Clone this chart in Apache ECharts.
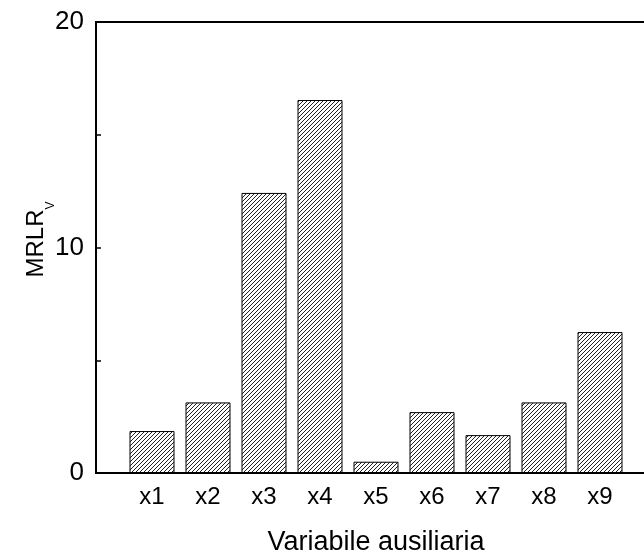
<!DOCTYPE html>
<html>
<head>
<meta charset="utf-8">
<script src="https://cdn.jsdelivr.net/npm/echarts@6/dist/echarts.min.js"></script>
<style>
  html, body { margin: 0; padding: 0; background: #fff; }
  #chart { width: 644px; height: 552px; }
</style>
</head>
<body>
<div id="chart"></div>
<script>
// Auxiliary variables on the x axis; blank slots pad both ends of the axis
const categories = ['', 'x1', 'x2', 'x3', 'x4', 'x5', 'x6', 'x7', 'x8', 'x9', ''];
const mrlrValues = [null, 1.86, 3.13, 12.42, 16.54, 0.5, 2.7, 1.68, 3.13, 6.25, null];
const yTickLabels = ['0', '10', '20'];

// Diagonal hatch fill for the bars
function hatchPattern() {
  const c = document.createElement('canvas');
  c.width = 4; c.height = 4;
  const g = c.getContext('2d');
  g.fillStyle = '#fff';
  g.fillRect(0, 0, 4, 4);
  g.strokeStyle = '#222';
  g.lineWidth = 1;
  g.beginPath();
  g.moveTo(-1, 5); g.lineTo(5, -1);
  g.moveTo(-1, 1); g.lineTo(1, -1);
  g.moveTo(3, 5); g.lineTo(5, 3);
  g.stroke();
  return c;
}

const chart = echarts.init(document.getElementById('chart'));
const font = 'Liberation Sans, Arial, sans-serif';

chart.setOption({
  animation: false,
  backgroundColor: '#fff',
  grid: {
    // the plot frame runs on past the right edge of the page
    left: 96, right: -12, top: 22, bottom: 79,
    containLabel: false,
    outerBoundsMode: 'none',
    show: true, borderColor: '#000', borderWidth: 2, backgroundColor: 'transparent'
  },
  xAxis: {
    type: 'category',
    data: categories,
    boundaryGap: false,
    name: 'Variabile ausiliaria',
    nameLocation: 'middle',
    nameGap: 56,
    nameMoveOverlap: false,
    nameTextStyle: { fontFamily: font, fontSize: 27, color: '#000' },
    axisLine: { lineStyle: { color: '#000', width: 2 } },
    axisTick: { show: false },
    axisLabel: { fontFamily: font, fontSize: 24, color: '#000', margin: 12, interval: 0 },
    splitLine: { show: false }
  },
  yAxis: {
    type: 'value',
    min: 0, max: 20, interval: 5,
    name: '{a|MRLR}{b|V}',
    nameLocation: 'middle',
    nameRotate: 90,
    nameGap: 48,
    nameMoveOverlap: false,
    nameTextStyle: {
      rich: {
        a: { fontFamily: font, fontSize: 24, lineHeight: 24, color: '#000', padding: [0, 0, 0, 16] },
        b: { fontFamily: font, fontSize: 12, lineHeight: 12, color: '#000', padding: [30, 0, 0, 0] }
      }
    },
    axisLine: { show: true, lineStyle: { color: '#000', width: 2 } },
    axisTick: { show: true, inside: true, length: 5, lineStyle: { color: '#000', width: 1.5 } },
    axisLabel: {
      fontFamily: font, fontSize: 26, color: '#000', margin: 12,
      formatter: v => (yTickLabels.includes(String(v)) ? String(v) : '')
    },
    splitLine: { show: false }
  },
  series: [{
    type: 'bar',
    data: mrlrValues,
    barWidth: 45,
    itemStyle: {
      color: { image: hatchPattern(), repeat: 'repeat' },
      borderColor: '#000',
      borderWidth: 1
    }
  }]
});
</script>
</body>
</html>
